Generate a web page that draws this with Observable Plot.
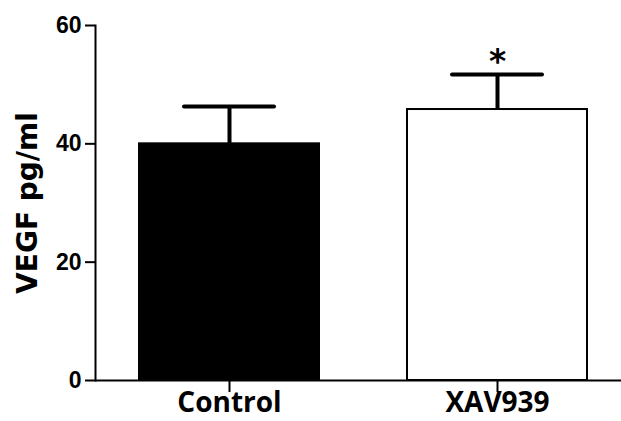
<!DOCTYPE html>
<html>
<head>
<meta charset="utf-8">
<script src="https://cdn.jsdelivr.net/npm/d3@7"></script>
<script src="https://cdn.jsdelivr.net/npm/@observablehq/plot@0.6"></script>
<style>
  html, body { margin: 0; padding: 0; background: white; }
</style>
</head>
<body>
<div id="chart"></div>
<script>
// Data
const groups = ["Control", "XAV939"];
const means = [40, 45.8];
const errors = [6.3, 5.9];
const fills = ["black", "white"];
const sigMarks = ["", "*"];
const yTicks = [0, 20, 40, 60];
const yLabel = "VEGF pg/ml";

const data = groups.map((g, i) => ({
  group: g,
  mean: means[i],
  top: means[i] + errors[i],
  fill: fills[i],
  sig: sigMarks[i]
}));

const chart = Plot.plot({
  width: 621,
  height: 421,
  marginLeft: 95,
  marginRight: 0,
  marginTop: 25,
  marginBottom: 41,
  style: { background: "white", color: "black", fontFamily: "DejaVu Sans" },
  x: { domain: groups, paddingInner: 0.33, paddingOuter: 0.1443, align: 0.555 },
  y: { domain: [0, 60] },
  color: { type: "identity" },
  marks: [
    Plot.ruleX(data, { x: "group", y1: "mean", y2: "top", strokeWidth: 4 }),
    Plot.barY(data, { x: "group", y: "mean", fill: "fill", stroke: "black", strokeWidth: 2 }),
    Plot.tickY(data, { x: "group", y: "top", strokeWidth: 4, strokeLinecap: "round", insetLeft: 45, insetRight: 45 }),
    Plot.text(data, { x: "group", y: "top", text: "sig", dy: -12, fontSize: 33, fontWeight: "bold", fontFamily: "DejaVu Sans" }),
    Plot.ruleY([0], { strokeWidth: 2 }),
    Plot.frame({ anchor: "left", strokeWidth: 2 }),
    Plot.axisY({ ticks: yTicks, tickSize: 10, tickPadding: 4, strokeWidth: 2, fontSize: 23, fontWeight: "bold", fontFamily: "Liberation Sans", label: null }),
    Plot.axisY({ ticks: [], label: yLabel, labelArrow: false, labelAnchor: "center", labelOffset: 78, fontSize: 28, fontWeight: "bold", dx: 5 }),
    Plot.axisX({ tickSize: 12, tickPadding: 0, strokeWidth: 2, fontSize: 28, fontWeight: "bold", fontFamily: "Open Sans", label: null })
  ]
});

document.getElementById("chart").appendChild(chart);
</script>
</body>
</html>
